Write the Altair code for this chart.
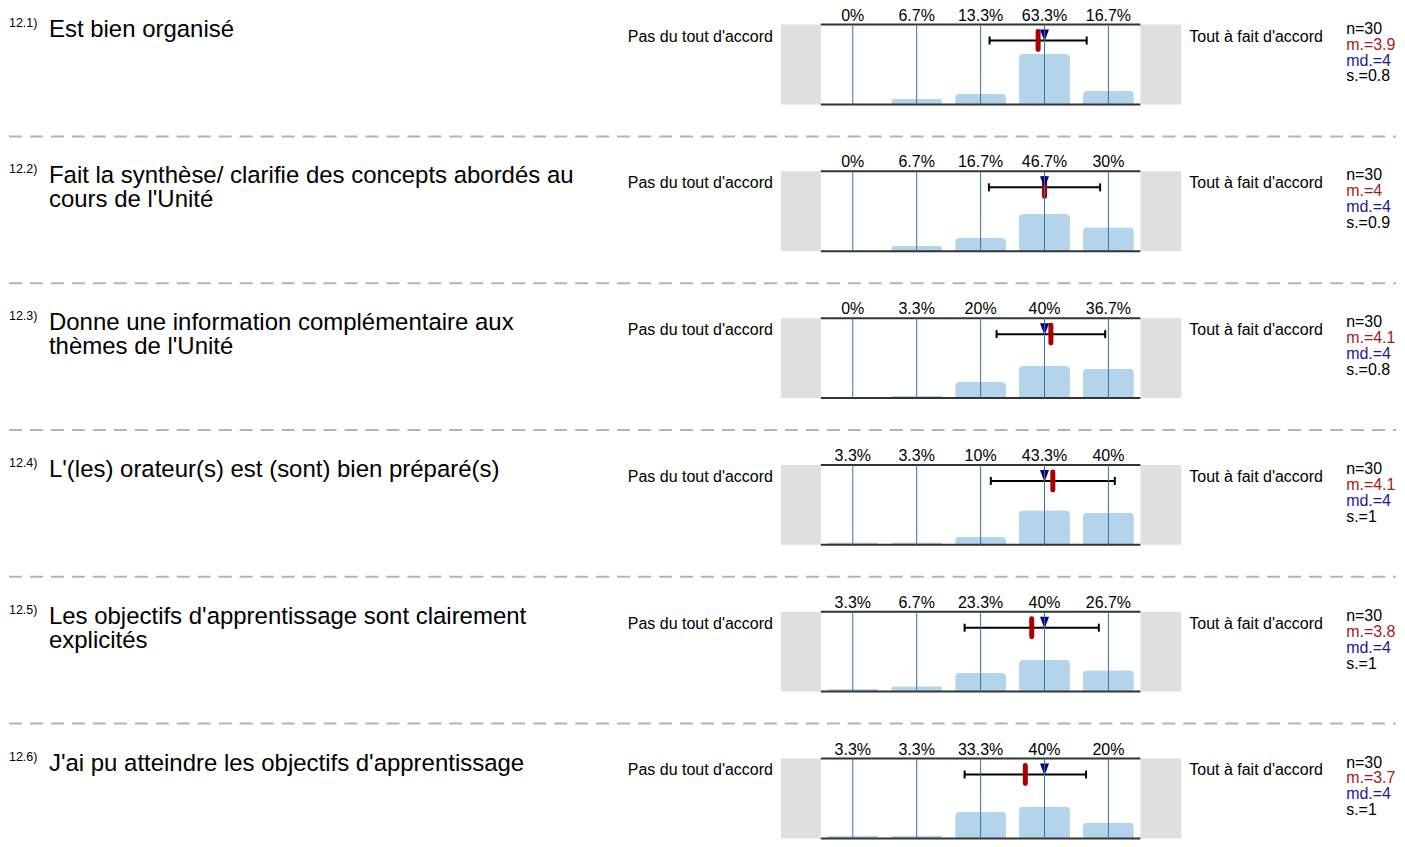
import altair as alt
import pandas as pd

# ---------------- data ----------------
numbers = ["12.1)", "12.2)", "12.3)", "12.4)", "12.5)", "12.6)"]
questions = [
    "Est bien organisé",
    "Fait la synthèse/ clarifie des concepts abordés au\ncours de l'Unité",
    "Donne une information complémentaire aux\nthèmes de l'Unité",
    "L'(les) orateur(s) est (sont) bien préparé(s)",
    "Les objectifs d'apprentissage sont clairement\nexplicités",
    "J'ai pu atteindre les objectifs d'apprentissage",
]
categories = [1, 2, 3, 4, 5]
percents = [
    [0, 6.7, 13.3, 63.3, 16.7],
    [0, 6.7, 16.7, 46.7, 30],
    [0, 3.3, 20, 40, 36.7],
    [3.3, 3.3, 10, 43.3, 40],
    [3.3, 6.7, 23.3, 40, 26.7],
    [3.3, 3.3, 33.3, 40, 20],
]
n_values = [30, 30, 30, 30, 30, 30]
means = [3.90, 4.00, 4.10, 4.13, 3.80, 3.70]
sds = [0.76, 0.87, 0.85, 0.97, 1.05, 0.95]
medians = [4, 4, 4, 4, 4, 4]
mean_labels = ["3.9", "4", "4.1", "4.1", "3.8", "3.7"]
sd_labels = ["0.8", "0.9", "0.8", "1", "1", "1"]
left_label = "Pas du tout d'accord"
right_label = "Tout à fait d'accord"

# ---------------- layout / style ----------------
W, H = 1389, 80
FONT = "Liberation Sans"
xs = alt.Scale(domain=[-12.203125, 9.5], nice=False, zero=False, padding=0)
ys = alt.Scale(domain=[0, 100], nice=False)

BAR = "#b4d4ec"
VLINE = "#3a6ea5"
GREY = "#dfdfdf"
RED = "#aa0000"
NAVY = "#000080"
MRED = "#a01c1c"
MNAVY = "#1a1a96"
STATS_X = 8.72


def xq(field, axis=None):
    return alt.X(field, type="quantitative", scale=xs, axis=axis)


def xd(v):
    return alt.XDatum(v, type="quantitative", scale=xs, axis=None)


def make_row(i, last):
    bars = pd.DataFrame({
        "cat": categories,
        "pct": percents[i],
        "label": [f"{p:g}%" for p in percents[i]],
    })
    info = pd.DataFrame({
        "num": [numbers[i]],
        "question": [questions[i]],
        "mean": [means[i]],
        "sd": [sds[i]],
        "median": [medians[i]],
        "n_txt": [f"n={n_values[i]}"],
        "m_txt": [f"m.={mean_labels[i]}"],
        "md_txt": [f"md.={medians[i]}"],
        "s_txt": [f"s.={sd_labels[i]}"],
        "left": [left_label],
        "right": [right_label],
    })
    b = alt.Chart(bars)
    q = alt.Chart(info)
    eb = q.transform_calculate(lo="datum.mean - datum.sd", hi="datum.mean + datum.sd")

    layers = [
        q.mark_rect(color=GREY).encode(x=xd(-0.125), x2=alt.X2Datum(0.5),
                                       y=alt.value(0), y2=alt.value(H)),
        q.mark_rect(color=GREY).encode(x=xd(5.5), x2=alt.X2Datum(6.14),
                                       y=alt.value(0), y2=alt.value(H)),
        b.mark_bar(size=51, color=BAR, cornerRadiusTopLeft=4, cornerRadiusTopRight=4).encode(
            x=xq("cat", axis=alt.Axis(values=categories, domain=False, ticks=False, tickSize=0,
                                      grid=False, labelPadding=3, labelFontSize=16,
                                      labelColor="#000000", labelFont=FONT, title=None)),
            y=alt.Y("pct:Q", scale=ys, axis=None),
        ),
        q.mark_rule(color="#333333", strokeWidth=2).encode(
            x=xd(0.5), x2=alt.X2Datum(5.5), y=alt.value(0)),
        q.mark_rule(color="#333333", strokeWidth=2).encode(
            x=xd(0.5), x2=alt.X2Datum(5.5), y=alt.value(H)),
        eb.mark_rule(color="#000000", strokeWidth=2).encode(
            x=xq("lo"), x2="hi:Q", y=alt.value(16)),
        eb.mark_rule(color="#000000", strokeWidth=2).encode(
            x=xq("lo"), y=alt.value(12), y2=alt.value(20)),
        eb.mark_rule(color="#000000", strokeWidth=2).encode(
            x=xq("hi"), y=alt.value(12), y2=alt.value(20)),
        q.mark_rule(color=RED, strokeWidth=5, strokeCap="round").encode(
            x=xq("mean"), y=alt.value(7), y2=alt.value(25)),
        q.mark_point(shape="M-0.75,-1L0.75,-1L0,1Z", size=144, filled=True,
                     color=NAVY, opacity=1, strokeWidth=0).encode(
            x=xq("median"), y=alt.value(11)),
        b.mark_rule(color=VLINE, strokeWidth=1).encode(
            x=xq("cat"), y=alt.value(0), y2=alt.value(H)),
        b.mark_text(fontSize=16, font=FONT, baseline="alphabetic", color="#000000").encode(
            x=xq("cat"), y=alt.value(-4), text="label:N"),
        q.mark_text(fontSize=16, font=FONT, align="right", baseline="middle", color="#000000").encode(
            x=xd(-0.25), y=alt.value(12), text="left:N"),
        q.mark_text(fontSize=16, font=FONT, align="left", baseline="middle", color="#000000").encode(
            x=xd(6.266), y=alt.value(12), text="right:N"),
        q.mark_text(fontSize=16, font=FONT, align="left", baseline="middle", color="#000000").encode(
            x=xd(STATS_X), y=alt.value(4), text="n_txt:N"),
        q.mark_text(fontSize=16, font=FONT, align="left", baseline="middle", color=MRED).encode(
            x=xd(STATS_X), y=alt.value(20), text="m_txt:N"),
        q.mark_text(fontSize=16, font=FONT, align="left", baseline="middle", color=MNAVY).encode(
            x=xd(STATS_X), y=alt.value(36), text="md_txt:N"),
        q.mark_text(fontSize=16, font=FONT, align="left", baseline="middle", color="#000000").encode(
            x=xd(STATS_X), y=alt.value(52), text="s_txt:N"),
        q.mark_text(fontSize=12.5, font=FONT, align="left", baseline="alphabetic", color="#000000").encode(
            x=alt.value(0), y=alt.value(2), text="num:N"),
        q.mark_text(fontSize=24, font=FONT, align="left", baseline="alphabetic", lineBreak="\n",
                    lineHeight=24, color="#000000").encode(
            x=alt.value(40), y=alt.value(12), text="question:N"),
    ]
    if not last:
        layers.append(
            q.mark_rule(color="#b4b4b4", strokeWidth=2, strokeDash=[13, 8]).encode(
                x=alt.value(0), x2=alt.value(W), y=alt.value(112)))
    return alt.layer(*layers).properties(width=W, height=H)


rows = [make_row(i, i == len(questions) - 1) for i in range(len(questions))]

PAD = {"left": 0, "top": -1, "right": 0, "bottom": 0}
chart = (
    alt.vconcat(*rows, spacing=67, bounds="flush")
    .properties(padding=PAD)
    .configure(font=FONT, padding=PAD,
               view=alt.ViewConfig(stroke="transparent", strokeWidth=0))
)

chart.save("out.html", embed_options={"renderer": "svg", "actions": False})
